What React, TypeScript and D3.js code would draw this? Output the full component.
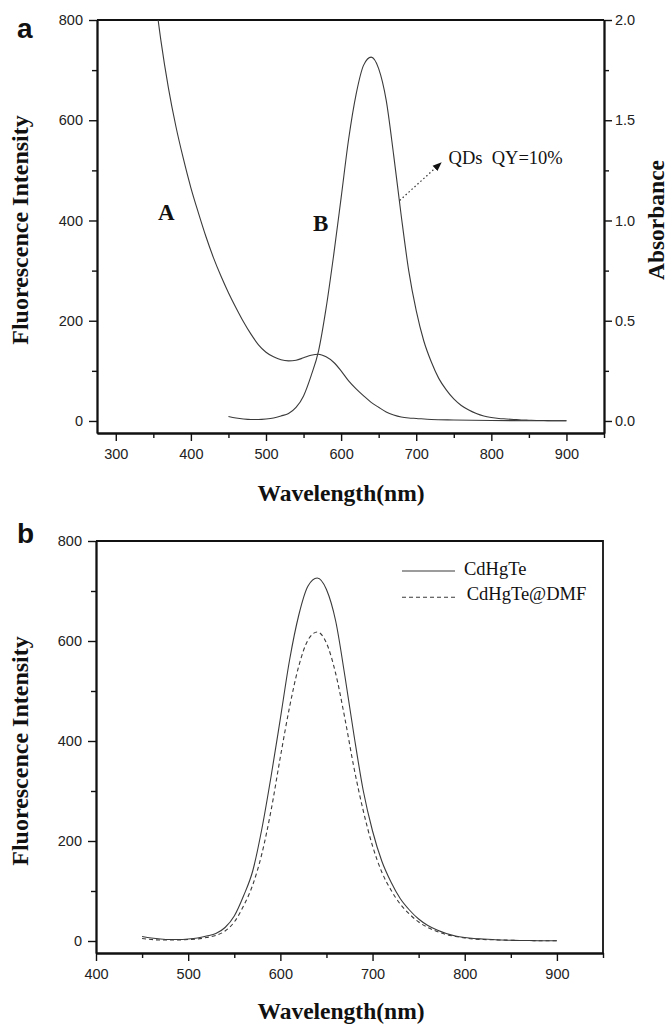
import React, { useEffect, useRef } from 'react';
import * as d3 from 'd3';

// absorption spectrum (curve A), absorbance units
const absWavelength = [350, 360, 370, 380, 390, 400, 410, 420, 430, 440, 450, 460, 470, 480, 490, 500, 510, 520, 530, 540, 550, 560, 570, 580, 590, 600, 610, 620, 630, 640, 650, 660, 670, 680, 690, 700, 720, 750, 800, 850, 900];
const absorbance = [2.19, 1.9, 1.663, 1.47, 1.308, 1.163, 1.038, 0.92, 0.815, 0.723, 0.64, 0.565, 0.495, 0.433, 0.38, 0.343, 0.32, 0.305, 0.3, 0.303, 0.315, 0.328, 0.333, 0.32, 0.293, 0.25, 0.2, 0.16, 0.125, 0.093, 0.068, 0.045, 0.03, 0.02, 0.015, 0.0125, 0.0075, 0.005, 0.0025, 0.0013, 0.0008];

// fluorescence spectra
const plWavelength = [450, 460, 470, 480, 490, 500, 510, 520, 530, 540, 550, 560, 570, 580, 590, 600, 610, 620, 630, 640, 650, 660, 670, 680, 690, 700, 710, 720, 730, 740, 750, 760, 770, 780, 790, 800, 810, 820, 830, 840, 850, 860, 870, 880, 890, 900];
const cdhgte = [9, 6, 4, 3, 3, 4, 6, 10, 15, 27, 50, 90, 140, 225, 330, 445, 562, 652, 710, 726, 703, 640, 530, 410, 300, 220, 160, 118, 85, 62, 44, 31, 22, 15, 10, 7, 5, 4, 3, 2, 1.5, 1, 1, 0.5, 0.5, 0.5];
const cdhgteDmf = [5, 3, 2, 2, 2, 3, 4, 7, 11, 20, 38, 70, 112, 175, 262, 368, 468, 550, 602, 618, 596, 535, 445, 345, 260, 190, 138, 102, 74, 54, 38, 27, 19, 13, 9, 6, 4, 3, 2.5, 2, 1.5, 1, 1, 0.5, 0.5, 0.5];

// ticks
const xTicksA = [300, 400, 500, 600, 700, 800, 900];
const xMinorA = [350, 450, 550, 650, 750, 850, 950];
const xTicksB = [400, 500, 600, 700, 800, 900];
const xMinorB = [450, 550, 650, 750, 850, 950];
const yTicks = [0, 200, 400, 600, 800];
const yMinor = [100, 300, 500, 700];
const absTicks = [0, 0.5, 1.0, 1.5, 2.0];
const absMinor = [0.25, 0.75, 1.25, 1.75];

const legendNames = ['CdHgTe', 'CdHgTe@DMF'];

const SANS = "'Liberation Sans', Arial, sans-serif";
const SERIF = "'Liberation Serif', 'Times New Roman', serif";
const INK = '#111';
const CURVE = '#3a3a3a';

const styleAxis = (g) => {
    g.attr('font-family', SANS).attr('font-size', 14.5);
    g.select('.domain').attr('stroke', INK).attr('stroke-width', 1.8);
    g.selectAll('.tick line').attr('stroke', INK).attr('stroke-width', 1.4);
    g.selectAll('.tick text').attr('fill', '#222');
};

const addAxis = (svg, axis, transform) => {
    const g = svg.append('g').attr('transform', transform).call(axis);
    styleAxis(g);
    return g;
};

const App = () => {
    const ref = useRef(null);

    useEffect(() => {
        const svg = d3.select(ref.current);
        svg.selectAll('*').remove();
        const defs = svg.append('defs');

        // ---------- panel a ----------
        const fa = { left: 97, right: 604, top: 20, bottom: 433 };
        const xA = d3.scaleLinear().domain([275, 950]).range([fa.left, fa.right]);
        const yA = d3.scaleLinear().domain([-24, 800]).range([fa.bottom, fa.top]);
        const yAbs = d3.scaleLinear().domain([-0.06, 2.0]).range([fa.bottom, fa.top]);

        defs.append('clipPath').attr('id', 'clipA').append('rect')
            .attr('x', fa.left).attr('y', fa.top)
            .attr('width', fa.right - fa.left).attr('height', fa.bottom - fa.top);

        defs.append('marker')
            .attr('id', 'arrowhead')
            .attr('viewBox', '0 0 10 10')
            .attr('refX', 9).attr('refY', 5)
            .attr('markerWidth', 9).attr('markerHeight', 9)
            .attr('markerUnits', 'userSpaceOnUse')
            .attr('orient', 'auto')
            .append('path').attr('d', 'M0,1 L10,5 L0,9 Z').attr('fill', INK);

        addAxis(svg, d3.axisBottom(xA).tickValues(xTicksA).tickSize(8).tickSizeOuter(0).tickPadding(7.5).tickFormat(d3.format('d')), `translate(0,${fa.bottom})`);
        addAxis(svg, d3.axisBottom(xA).tickValues(xMinorA).tickSize(5).tickSizeOuter(0).tickFormat(() => ''), `translate(0,${fa.bottom})`);
        addAxis(svg, d3.axisLeft(yA).tickValues(yTicks).tickSize(8).tickSizeOuter(0).tickPadding(6).tickFormat(d3.format('d')), `translate(${fa.left},0)`);
        addAxis(svg, d3.axisLeft(yA).tickValues(yMinor).tickSize(5).tickSizeOuter(0).tickFormat(() => ''), `translate(${fa.left},0)`);
        addAxis(svg, d3.axisRight(yAbs).tickValues(absTicks).tickSize(8).tickSizeOuter(0).tickPadding(3).tickFormat(d3.format('.1f')), `translate(${fa.right},0)`);
        addAxis(svg, d3.axisRight(yAbs).tickValues(absMinor).tickSize(5).tickSizeOuter(0).tickFormat(() => ''), `translate(${fa.right},0)`);
        svg.append('line')
            .attr('x1', fa.left).attr('x2', fa.right).attr('y1', fa.top).attr('y2', fa.top)
            .attr('stroke', INK).attr('stroke-width', 1.8);

        const plotA = svg.append('g').attr('clip-path', 'url(#clipA)');
        const lineAbs = d3.line().x((d, i) => xA(absWavelength[i])).y(d => yAbs(d)).curve(d3.curveMonotoneX);
        const linePlA = d3.line().x((d, i) => xA(plWavelength[i])).y(d => yA(d)).curve(d3.curveMonotoneX);
        plotA.append('path').datum(absorbance).attr('d', lineAbs)
            .attr('fill', 'none').attr('stroke', CURVE).attr('stroke-width', 1.1);
        plotA.append('path').datum(cdhgte).attr('d', linePlA)
            .attr('fill', 'none').attr('stroke', CURVE).attr('stroke-width', 1.1);

        // annotation
        svg.append('line')
            .attr('x1', xA(678)).attr('y1', yA(440))
            .attr('x2', xA(733)).attr('y2', yA(515))
            .attr('stroke', '#333').attr('stroke-width', 1.2)
            .attr('stroke-dasharray', '1.5,2.5')
            .attr('marker-end', 'url(#arrowhead)');
        svg.append('text')
            .attr('x', xA(743)).attr('y', yA(513))
            .style('white-space', 'pre')
            .attr('font-family', SERIF).attr('font-size', 18.5).attr('fill', INK)
            .text('QDs  QY=10%');

        svg.append('text').attr('x', 158).attr('y', 220)
            .attr('font-family', SERIF).attr('font-weight', 'bold').attr('font-size', 23).attr('fill', INK).text('A');
        svg.append('text').attr('x', 313).attr('y', 230.5)
            .attr('font-family', SERIF).attr('font-weight', 'bold').attr('font-size', 23).attr('fill', INK).text('B');

        svg.append('text').attr('x', 17).attr('y', 38)
            .attr('font-family', SANS).attr('font-weight', 'bold').attr('font-size', 28).attr('fill', INK).text('a');

        svg.append('text').attr('x', 341).attr('y', 501).attr('text-anchor', 'middle')
            .attr('font-family', SERIF).attr('font-weight', 'bold').attr('font-size', 23.5).attr('fill', INK)
            .text('Wavelength(nm)');
        svg.append('text').attr('transform', 'translate(28,230) rotate(-90)').attr('text-anchor', 'middle')
            .attr('font-family', SERIF).attr('font-weight', 'bold').attr('font-size', 24).attr('fill', INK)
            .text('Fluorescence Intensity');
        svg.append('text').attr('transform', 'translate(664,220) rotate(-90)').attr('text-anchor', 'middle')
            .attr('font-family', SERIF).attr('font-weight', 'bold').attr('font-size', 23.5).attr('fill', INK)
            .text('Absorbance');

        // ---------- panel b ----------
        const fb = { left: 96, right: 603, top: 541, bottom: 953 };
        const xB = d3.scaleLinear().domain([400, 950]).range([fb.left, fb.right]);
        const yB = d3.scaleLinear().domain([-24, 800]).range([fb.bottom, fb.top]);

        addAxis(svg, d3.axisBottom(xB).tickValues(xTicksB).tickSize(8).tickSizeOuter(0).tickPadding(7.5).tickFormat(d3.format('d')), `translate(0,${fb.bottom})`);
        addAxis(svg, d3.axisBottom(xB).tickValues(xMinorB).tickSize(5).tickSizeOuter(0).tickFormat(() => ''), `translate(0,${fb.bottom})`);
        addAxis(svg, d3.axisLeft(yB).tickValues(yTicks).tickSize(8).tickSizeOuter(0).tickPadding(6).tickFormat(d3.format('d')), `translate(${fb.left},0)`);
        addAxis(svg, d3.axisLeft(yB).tickValues(yMinor).tickSize(5).tickSizeOuter(0).tickFormat(() => ''), `translate(${fb.left},0)`);
        svg.append('path')
            .attr('d', `M${fb.left},${fb.top}H${fb.right}V${fb.bottom}`)
            .attr('fill', 'none').attr('stroke', INK).attr('stroke-width', 1.8);

        const linePlB = d3.line().x((d, i) => xB(plWavelength[i])).y(d => yB(d)).curve(d3.curveMonotoneX);
        svg.append('path').datum(cdhgte).attr('d', linePlB)
            .attr('fill', 'none').attr('stroke', CURVE).attr('stroke-width', 1.1);
        svg.append('path').datum(cdhgteDmf).attr('d', linePlB)
            .attr('fill', 'none').attr('stroke', CURVE).attr('stroke-width', 1.1)
            .attr('stroke-dasharray', '4,3');

        // legend
        const legend = svg.append('g').attr('transform', 'translate(402,571)');
        legendNames.forEach((name, i) => {
            const row = legend.append('g').attr('transform', `translate(0,${i * 26.3})`);
            row.append('line').attr('x1', 0).attr('x2', 53).attr('y1', 0).attr('y2', 0)
                .attr('stroke', CURVE).attr('stroke-width', 1.1)
                .attr('stroke-dasharray', i === 1 ? '4,3' : null);
            row.append('text').attr('x', i === 1 ? 64.7 : 62).attr('y', 4 - i * 1.3)
                .attr('font-family', SERIF).attr('font-size', 18.5).attr('fill', INK)
                .text(name);
        });

        svg.append('text').attr('x', 17).attr('y', 543)
            .attr('font-family', SANS).attr('font-weight', 'bold').attr('font-size', 28).attr('fill', INK).text('b');
        svg.append('text').attr('x', 341).attr('y', 1019).attr('text-anchor', 'middle')
            .attr('font-family', SERIF).attr('font-weight', 'bold').attr('font-size', 23.5).attr('fill', INK)
            .text('Wavelength(nm)');
        svg.append('text').attr('transform', 'translate(28,751) rotate(-90)').attr('text-anchor', 'middle')
            .attr('font-family', SERIF).attr('font-weight', 'bold').attr('font-size', 24).attr('fill', INK)
            .text('Fluorescence Intensity');
    }, []);

    return (
        <svg ref={ref} width={668} height={1026}
            style={{ position: 'absolute', left: 0, top: 0, background: '#fff' }} />
    );
};

export default App;
